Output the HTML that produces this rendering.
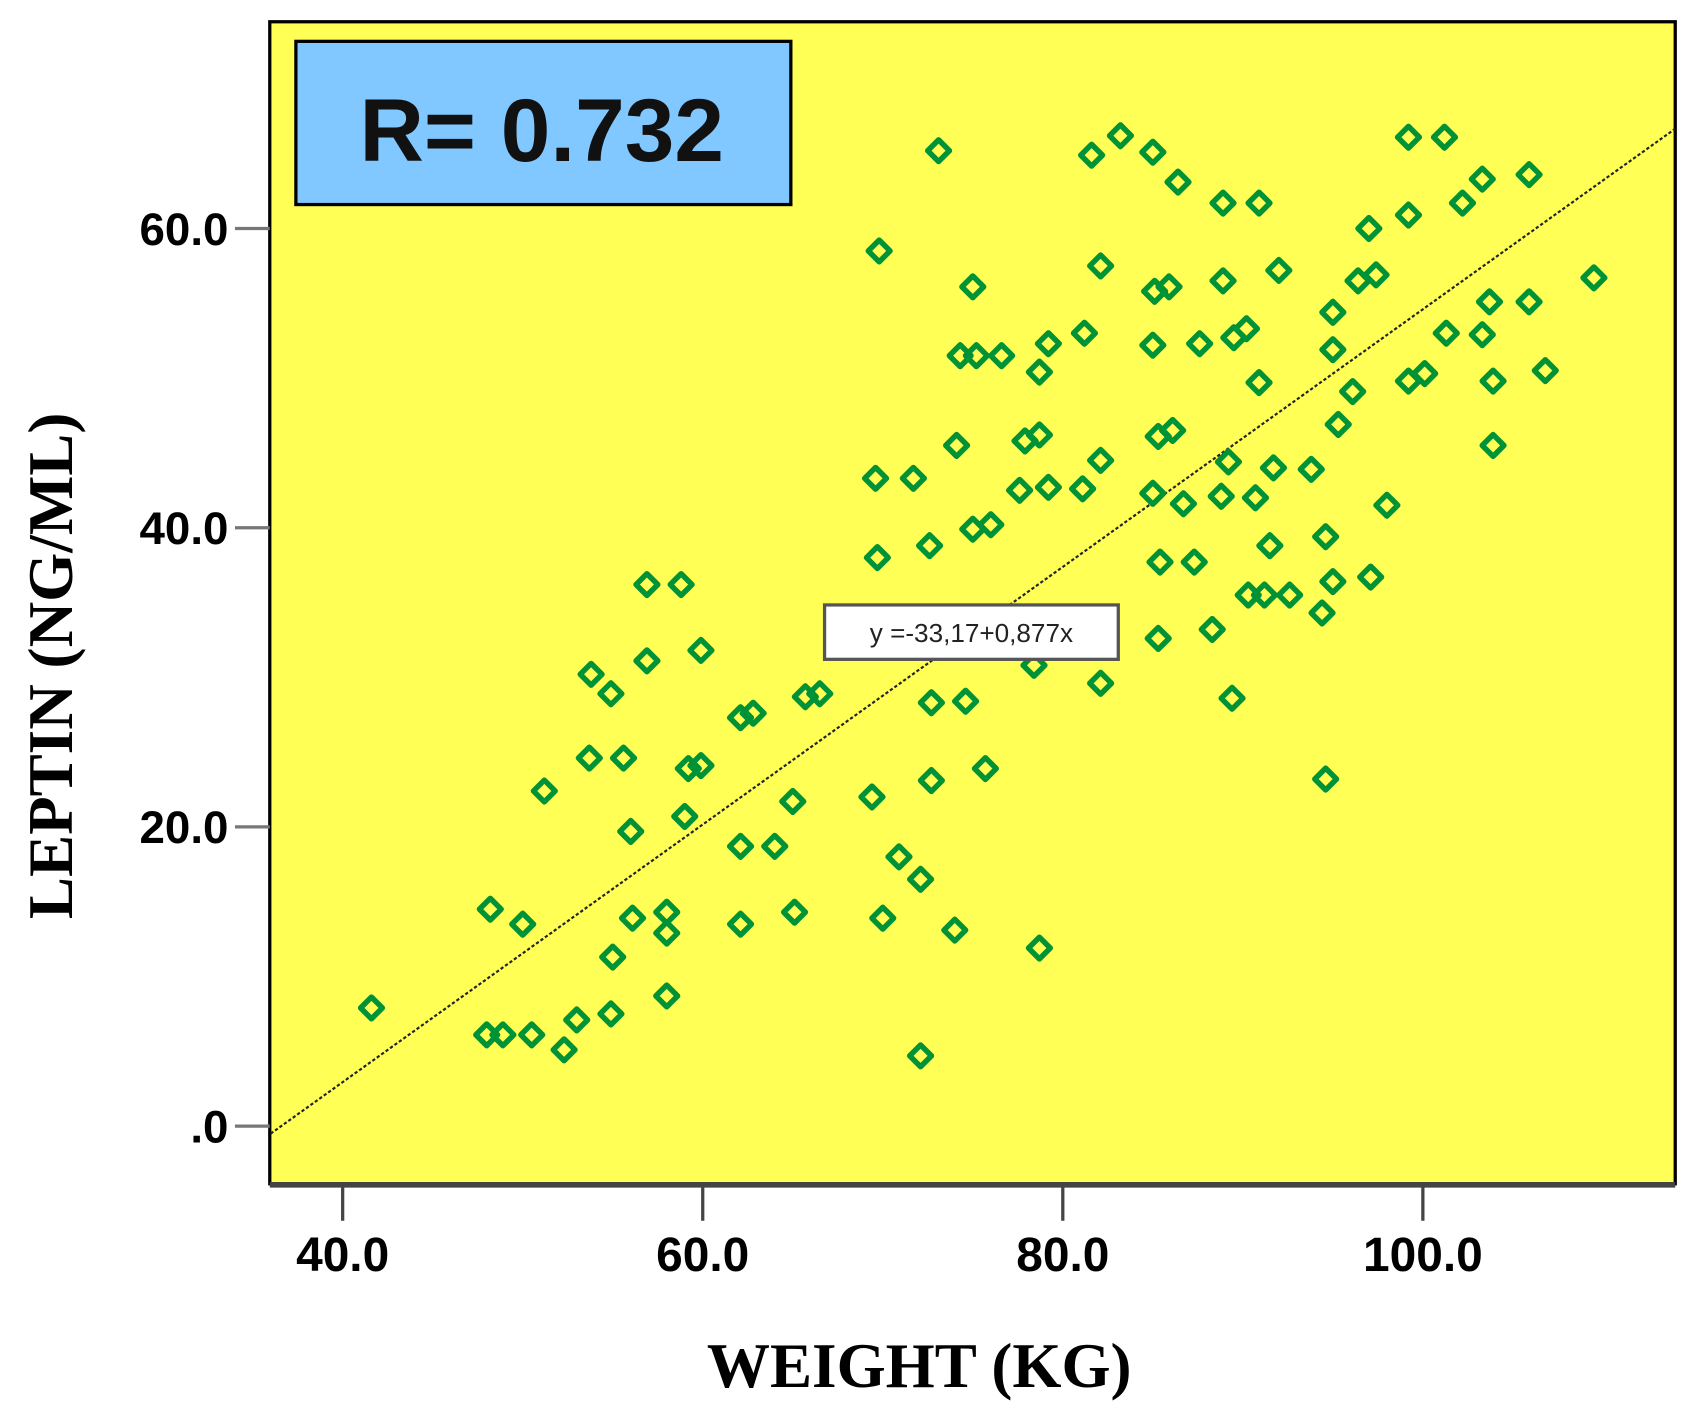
<!DOCTYPE html>
<html><head><meta charset="utf-8"><style>html,body{margin:0;padding:0;background:#fff}svg{display:block}</style></head>
<body>
<svg width="1697" height="1409" viewBox="0 0 1560 1295" preserveAspectRatio="none" xmlns="http://www.w3.org/2000/svg">
<rect x="248" y="20" width="1292" height="1068" fill="#ffff55" stroke="#000" stroke-width="3"/>
<line x1="248" y1="1089" x2="1540" y2="1089" stroke="#444" stroke-width="5"/>
<g id="ticks"></g>
<line id="fit" stroke="#222" stroke-width="2" stroke-dasharray="3,2"/>
<g id="pts"></g>
<g>
<rect x="758" y="556" width="270" height="50" fill="#fff" stroke="#555" stroke-width="3"/>
<text x="893" y="590" font-family="Liberation Sans, sans-serif" font-size="24" text-anchor="middle" fill="#222">y =-33,17+0,877x</text>
</g>
<g>
<rect x="272" y="38" width="455" height="150" fill="#80c8ff" stroke="#000" stroke-width="3"/>
<text x="498" y="148" font-family="Liberation Sans, sans-serif" font-weight="bold" font-size="82" text-anchor="middle" fill="#111">R= 0.732</text>
</g>
<text x="845" y="1275" font-family="Liberation Serif, serif" font-weight="bold" font-size="58" text-anchor="middle" fill="#000">WEIGHT (KG)</text>
<text transform="translate(66,612) rotate(-90)" font-family="Liberation Serif, serif" font-weight="bold" font-size="58" text-anchor="middle" fill="#000">LEPTIN (NG/ML)</text>
</svg>
<script>
const xs=[41.6,48.2,48.0,48.9,50.5,50.0,51.2,52.3,53.0,54.9,55.0,53.8,53.7,54.9,55.6,56.0,56.1,56.9,56.9,58.8,58.0,58.0,58.0,59.0,59.2,59.9,59.9,62.1,62.8,62.1,64.0,62.1,65.0,65.1,65.7,66.5,69.8,69.6,69.7,69.4,70.0,70.9,72.1,72.1,71.7,72.6,72.7,72.7,73.1,74.1,74.0,74.6,74.3,75.2,76.6,75.0,75.0,76.0,75.7,78.7,79.2,77.9,78.7,77.6,79.2,78.4,78.7,81.2,81.1,81.6,82.1,82.1,82.1,83.2,85.0,86.4,85.1,85.9,85.0,85.0,85.3,86.1,85.4,85.3,86.7,87.3,87.6,88.3,88.9,88.9,89.5,90.2,89.2,88.8,89.4,90.9,90.9,90.7,90.3,91.2,92.6,92.0,91.7,91.5,93.8,94.4,94.6,94.6,95.0,95.0,95.3,95.0,96.1,97.0,96.4,97.4,97.1,98.0,99.2,99.2,99.2,100.1,101.2,101.3,102.2,103.3,103.7,103.9,103.9,103.3,105.9,105.9,106.8,109.5];
const ys=[7.9,14.5,6.1,6.1,6.1,13.5,22.4,5.1,7.1,7.5,11.3,30.2,24.6,28.9,24.6,19.7,13.9,36.2,31.1,36.2,14.3,12.9,8.7,20.7,23.9,24.1,31.8,27.3,27.6,18.7,18.7,13.5,21.7,14.3,28.7,28.9,58.5,43.3,38.0,22.0,13.9,18.0,16.5,4.7,43.3,38.8,23.1,28.3,65.2,45.5,13.1,28.4,51.5,51.5,51.5,56.1,39.9,40.2,23.9,50.4,52.3,45.8,46.2,42.5,42.7,30.8,11.9,53.0,42.6,64.9,57.5,44.5,29.6,66.2,65.1,63.1,55.8,56.1,52.2,42.3,46.1,46.5,37.7,32.6,41.6,37.7,52.3,33.2,61.7,56.5,52.7,53.3,44.4,42.1,28.6,61.7,49.7,42.0,35.5,35.5,35.5,57.2,44.0,38.8,43.9,34.3,39.4,23.2,54.4,51.9,46.9,36.4,49.1,60.0,56.5,56.9,36.7,41.5,66.1,60.9,49.8,50.3,66.1,53.0,61.7,52.9,55.1,49.8,45.5,63.3,63.6,55.1,50.5,56.7];
const xTicks=[40,60,80,100];
const yTicks=[0,20,40,60];
const xTickLabels=["40.0","60.0","80.0","100.0"];
const yTickLabels=[".0","20.0","40.0","60.0"];
const fitIntercept=-31.5, fitSlope=0.861;
const X=v=>315+(v-40)*16.55;
const Y=v=>1035-v*13.75;
const NS="http://www.w3.org/2000/svg";
const tg=document.getElementById('ticks');
function mk(t,a,p){const e=document.createElementNS(NS,t);for(const k in a)e.setAttribute(k,a[k]);p.appendChild(e);return e;}
xTicks.forEach((v,i)=>{
 const l=mk('line',{x1:X(v),x2:X(v),y1:1090,y2:1122,stroke:'#444','stroke-width':3},tg);
 
 
 const t=mk('text',{x:X(v),y:1168,'font-family':'Liberation Sans, sans-serif','font-weight':'bold','font-size':44,'text-anchor':'middle'},tg);
 t.textContent=xTickLabels[i];
 
 
});
yTicks.forEach((v,i)=>{
 const l=mk('line',{x1:216,x2:248,y1:Y(v),y2:Y(v),stroke:'#777','stroke-width':3},tg);
 
 
 const t=mk('text',{x:210,y:Y(v)+15,'font-family':'Liberation Sans, sans-serif','font-weight':'bold','font-size':42,'text-anchor':'end'},tg);
 t.textContent=yTickLabels[i];
 
 
});
const f=document.getElementById('fit');
const x0=36,x1=114;
f.setAttribute('x1',X(x0));f.setAttribute('y1',Y(fitIntercept+fitSlope*x0));
f.setAttribute('x2',X(x1));f.setAttribute('y2',Y(fitIntercept+fitSlope*x1));
const pg=document.getElementById('pts');
xs.forEach((v,i)=>{
 const cx=X(v),cy=Y(ys[i]);
 const p=mk('path',{d:`M${cx} ${cy-10}L${cx+10} ${cy}L${cx} ${cy+10}L${cx-10} ${cy}Z`,fill:'none',stroke:'#009236','stroke-width':5,'stroke-linejoin':'round'},pg);
 
 
});
</script>
</body></html>
